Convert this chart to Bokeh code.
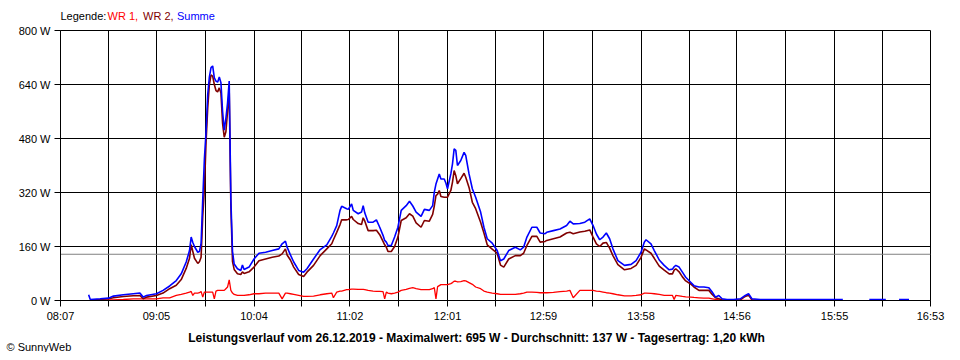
import numpy as np
from bokeh.plotting import figure
from bokeh.models import Range1d, FixedTicker, Span
from bokeh.layouts import column
from bokeh.embed import file_html
from bokeh.resources import INLINE
from bokeh.core.properties import value

nan = float("nan")

TIME = ["08:24", "08:25", "08:31", "08:36", "08:39", "08:45", "08:51", "08:55", "08:57", "08:59",
        "09:05", "09:09", "09:13", "09:17", "09:20", "09:23", "09:25", "09:26", "09:27", "09:28",
        "09:30", "09:31", "09:32", "09:33", "09:34", "09:35", "09:36", "09:37", "09:38", "09:39",
        "09:40", "09:41", "09:42", "09:43", "09:44", "09:45", "09:46", "09:47", "09:48", "09:49",
        "09:50", "09:51", "09:52", "09:54", "09:56", "09:57", "09:58", "10:01", "10:04", "10:07",
        "10:11", "10:15", "10:19", "10:21", "10:23", "10:24", "10:26", "10:28", "10:31", "10:34",
        "10:36", "10:40", "10:44", "10:48", "10:51", "10:52", "10:54", "10:56", "10:57", "11:00",
        "11:01", "11:03", "11:04", "11:07", "11:09", "11:10", "11:11", "11:13", "11:16", "11:18",
        "11:20", "11:22", "11:23", "11:24", "11:25", "11:27", "11:29", "11:31", "11:33", "11:36",
        "11:38", "11:40", "11:42", "11:45", "11:47", "11:50", "11:52", "11:53", "11:54", "11:55",
        "11:56", "11:57", "11:59", "12:00", "12:01", "12:03", "12:04", "12:05", "12:06", "12:07",
        "12:09", "12:11", "12:12", "12:14", "12:16", "12:18", "12:21", "12:23", "12:25", "12:28",
        "12:31", "12:33", "12:35", "12:38", "12:42", "12:45", "12:47", "12:49", "12:52", "12:55",
        "12:57", "13:00", "13:01", "13:05", "13:09", "13:13", "13:15", "13:17", "13:21", "13:24",
        "13:27", "13:29", "13:31", "13:33", "13:35", "13:37", "13:39", "13:41", "13:44", "13:48",
        "13:52", "13:55", "13:58", "14:00", "14:01", "14:04", "14:06", "14:09", "14:12", "14:15",
        "14:17", "14:18", "14:19", "14:21", "14:23", "14:25", "14:28", "14:30", "14:33", "14:36",
        "14:39", "14:41", "14:43", "14:45", "14:47", "14:50", "14:54", "14:58", "15:01", "15:03",
        "15:05", "15:10", "16:00", "16:01", "16:16", "16:26", "16:27", "16:34", "16:40"]

WR1 = [nan, 1, 1, 2, 2, 3, 5, 5, 5, 5,
       5, 8, 8, 15, 18, 22, 25, 27, 15, 22,
       22, 23, 27, 10, 25, 25, 25, 25, 25, 25,
       5, 28, 30, 30, 30, 30, 30, 35, 40, 61,
       30, 22, 18, 15, 15, 15, 15, 17, 20, 20,
       22, 22, 22, 5, 22, 22, 20, 18, 15, 12,
       12, 13, 17, 20, 22, 8, 25, 28, 28, 32,
       32, 34, 34, 33, 33, 33, 32, 30, 28, 27,
       27, 26, 5, 25, 22, 20, 22, 25, 30, 33,
       36, 38, 35, 32, 32, 32, 35, 38, 5, 41,
       44, 47, 47, 47, 47, 50, 53, 57, 57, 55,
       56, 59, 58, 53, 48, 40, 35, 28, 25, 22,
       20, 18, 18, 18, 18, 20, 22, 25, 25, 24,
       23, 23, 23, 24, 26, 28, 30, 8, 30, 30,
       30, 30, 28, 27, 25, 23, 22, 20, 17, 14,
       14, 15, 17, 22, 22, 21, 20, 18, 15, 15,
       15, 3, 15, 14, 12, 11, 10, 9, 8, 7,
       7, 5, 3, 2, 1, 0, 0, 0, 0, 0,
       0, 0, nan, nan, nan, nan, nan, nan, nan]

WR2 = [nan, 1, 3, 5, 8, 12, 14, 15, 5, 10,
       15, 22, 35, 45, 62, 95, 125, 165, 145, 125,
       110, 115, 128, 250, 330, 470, 570, 640, 668, 665,
       640, 622, 618, 630, 615, 525, 484, 500, 560, 622,
       280, 115, 92, 79, 77, 85, 80, 85, 99, 118,
       123, 128, 132, 138, 153, 135, 120, 99, 77, 71,
       84, 104, 133, 153, 168, 180, 202, 225, 239, 239,
       240, 249, 240, 228, 225, 245, 235, 207, 207, 208,
       195, 175, 165, 158, 145, 145, 160, 188, 237, 245,
       257, 250, 230, 217, 237, 235, 255, 280, 311, 315,
       326, 308, 306, 306, 306, 326, 351, 385, 370, 346,
       361, 377, 365, 335, 291, 272, 232, 200, 165, 152,
       140, 105, 99, 123, 133, 133, 140, 163, 190, 190,
       173, 175, 178, 183, 188, 200, 202, 198, 203, 205,
       209, 188, 168, 160, 170, 172, 155, 133, 106, 91,
       95, 104, 128, 153, 150, 140, 125, 102, 90, 79,
       79, 90, 94, 85, 70, 58, 49, 40, 30, 30,
       30, 18, 8, 5, 2, 1, 1, 2, 12, 16,
       2, 0, nan, nan, nan, nan, nan, nan, nan]

SUMME = [17, 3, 5, 7, 13, 17, 20, 22, 10, 15,
         20, 30, 43, 59, 79, 114, 148, 188, 172, 160,
         143, 145, 169, 300, 420, 500, 610, 662, 690, 695,
         660, 650, 647, 662, 645, 560, 505, 540, 585, 650,
         300, 145, 108, 94, 89, 105, 92, 99, 123, 140,
         143, 148, 153, 168, 176, 158, 135, 114, 89, 84,
         94, 123, 151, 165, 190, 200, 222, 267, 279, 272,
         270, 286, 267, 257, 262, 281, 259, 232, 232, 239,
         217, 193, 178, 173, 163, 163, 188, 217, 267, 281,
         294, 280, 262, 249, 270, 267, 281, 321, 345, 360,
         375, 360, 360, 348, 331, 375, 405, 449, 445, 400,
         415, 439, 430, 375, 331, 306, 262, 217, 183, 170,
         148, 118, 123, 148, 158, 150, 158, 188, 217, 217,
         200, 198, 202, 207, 212, 222, 235, 227, 228, 232,
         242, 222, 197, 180, 188, 200, 183, 153, 118, 104,
         107, 118, 143, 173, 180, 168, 148, 120, 104, 91,
         93, 100, 104, 99, 84, 69, 54, 44, 40, 40,
         38, 25, 10, 15, 5, 3, 3, 5, 15, 20,
         5, 3, 3, nan, 3, 3, nan, 3, 3]

X_TICK_LABELS = ["08:07", "09:05", "10:04", "11:02", "12:01", "12:59", "13:58", "14:56", "15:55", "16:53"]
Y_TICKS = [0, 160, 320, 480, 640, 800]
AVERAGE = 137
LEGEND_PARTS = ["Legende:", "WR 1,", "WR 2,", "Summe"]
LEGEND_COLORS = ["black", "#ff0000", "#800000", "#0000ff"]
TITLE = "Leistungsverlauf vom 26.12.2019 - Maximalwert: 695 W - Durchschnitt: 137 W - Tagesertrag: 1,20 kWh"
COPYRIGHT = "\u00a9 SunnyWeb"

FONT = "Liberation Sans"
W = 952
TOP_H = 23
MAIN_H = 307
BOTTOM_H = 22


def to_min(s):
    h, m = s.split(":")
    return int(h) * 60 + int(m)


t = np.array([to_min(s) for s in TIME], dtype=float)
wr1 = np.array(WR1, dtype=float)
wr2 = np.array(WR2, dtype=float)
summe = np.array(SUMME, dtype=float)

label_pos = [to_min(s) for s in X_TICK_LABELS]
tick_pos = []
overrides = {}
for i, lp in enumerate(label_pos):
    tick_pos.append(lp)
    overrides[lp] = X_TICK_LABELS[i]
    if i < len(label_pos) - 1:
        mid = (lp + label_pos[i + 1]) / 2
        tick_pos.append(mid)
        overrides[mid] = ""


def text_strip(height):
    f = figure(width=W, height=height, x_range=Range1d(0, W), y_range=Range1d(0, height),
               title=None, output_backend="svg", toolbar_location=None, x_axis_location=None,
               y_axis_location=None, min_border=0, outline_line_color=None,
               background_fill_color="white", border_fill_color="white",
               frame_align=False)
    f.xgrid.visible = False
    f.ygrid.visible = False
    return f


# ---- top strip: legend ----
top = text_strip(TOP_H)
legend_x = [60, 107, 142.5, 176.5]
top.text(x=legend_x, y=[7.5] * 4, text=LEGEND_PARTS, text_color=LEGEND_COLORS,
         text_font=value(FONT), text_font_size="11px", text_baseline="alphabetic",
         text_align="left")

# ---- main chart ----
x0, x1 = label_pos[0], label_pos[-1]
p = figure(width=W, height=MAIN_H, x_range=Range1d(x0, x1), y_range=Range1d(0, 800),
           title=None, output_backend="svg", toolbar_location=None,
           min_border_left=60, min_border_right=22, min_border_top=7, min_border_bottom=30,
           background_fill_color="white", border_fill_color="white",
           outline_line_color="black", outline_line_width=1, frame_align=False)

for ax in (p.xaxis[0], p.yaxis[0]):
    ax.axis_line_color = "black"
    ax.major_tick_line_color = "black"
    ax.major_tick_in = 0
    ax.major_tick_out = 6
    ax.minor_tick_line_color = None
    ax.major_label_text_font = FONT
    ax.major_label_text_font_size = "11px"
    ax.major_label_text_color = "black"

p.xaxis.ticker = FixedTicker(ticks=tick_pos)
p.xaxis.major_label_overrides = overrides
p.xaxis.major_label_standoff = 3
p.yaxis.ticker = FixedTicker(ticks=Y_TICKS)
p.yaxis.major_label_overrides = {v: f"{v} W" for v in Y_TICKS}
p.yaxis.major_label_standoff = 4

p.xgrid.ticker = FixedTicker(ticks=tick_pos)
p.ygrid.ticker = FixedTicker(ticks=Y_TICKS)
for g in (p.xgrid[0], p.ygrid[0]):
    g.grid_line_color = "black"
    g.grid_line_alpha = 1.0
    g.grid_line_width = 1

p.add_layout(Span(location=AVERAGE, dimension="width", line_color="#808080",
                  line_width=1, level="underlay"))

p.line(t, wr1, line_color="#ff0000", line_width=1.3)
p.line(t, wr2, line_color="#800000", line_width=1.6)
p.line(t, summe, line_color="#0000ff", line_width=1.6)

# ---- bottom strip: title and copyright ----
bottom = text_strip(BOTTOM_H)
bottom.text(x=[476], y=[15], text=[TITLE], text_color="black", text_font=value(FONT),
            text_font_size="12px", text_font_style="bold", text_baseline="alphabetic",
            text_align="center")
bottom.text(x=[6], y=[6], text=[COPYRIGHT], text_color="black", text_font=value(FONT),
            text_font_size="11px", text_baseline="alphabetic", text_align="left")

layout = column(top, p, bottom, spacing=0)
open("out.html", "w").write(file_html(layout, INLINE))
